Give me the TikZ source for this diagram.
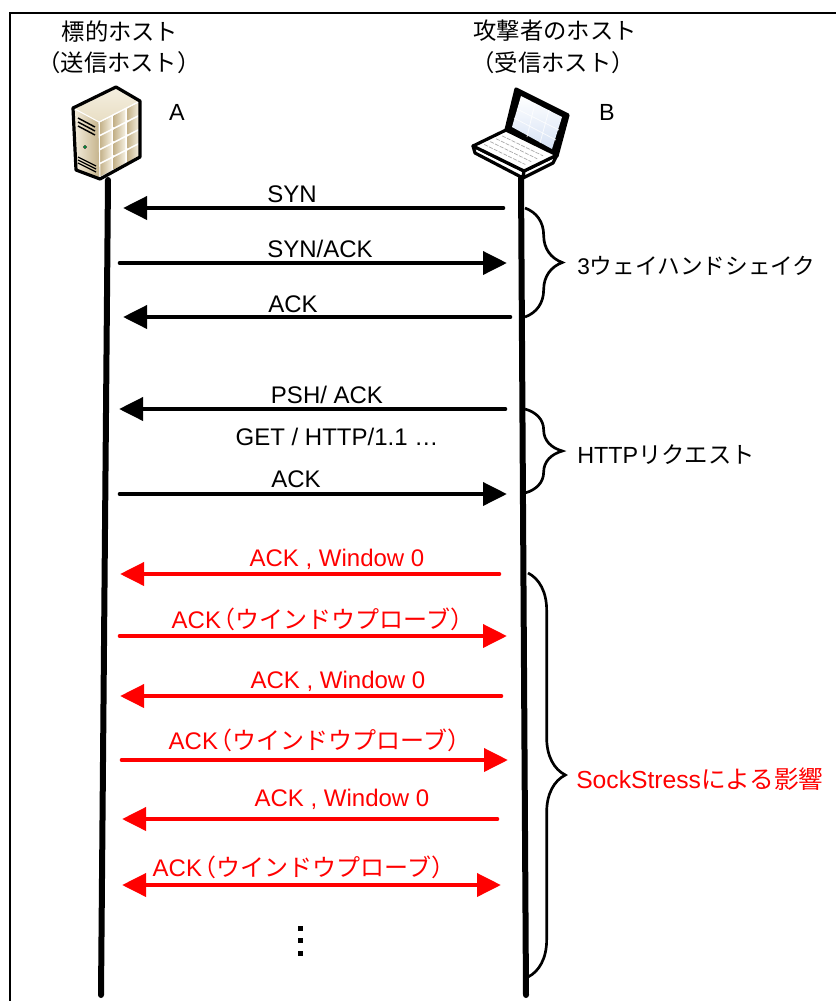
\documentclass[tikz,border=0pt]{standalone}
\usepackage{fontspec}
\setmainfont{Liberation Sans}
\newfontfamily\jp{Noto Sans CJK JP}
\newfontfamily\jph[RawFeature=+halt]{Noto Sans CJK JP}
\usetikzlibrary{arrows.meta,decorations.pathreplacing,calc}
\definecolor{msgred}{RGB}{255,0,0}
\definecolor{srvtop}{RGB}{232,222,196}
\definecolor{srvlight}{RGB}{245,239,224}
\definecolor{srvdark}{RGB}{196,178,138}
\definecolor{scrblue}{RGB}{214,226,245}
\newcommand{\probe}{ACK\kern2pt{\jph（}{\jp ウインドウプローブ}{\jph）}}
\begin{document}
\begin{tikzpicture}[x=0.75pt,y=-0.75pt,
  lbl/.style={font=\fontsize{18pt}{20pt}\selectfont, inner sep=0pt, anchor=base},
  jlbl/.style={font=\fontsize{17.5pt}{20pt}\selectfont\jp, inner sep=0pt},
  side/.style={font=\fontsize{17.5pt}{20pt}\selectfont, inner sep=0pt, anchor=west},
  lifeline/.style={line width=4.5pt, line cap=round},
  msg/.style={line width=3.5pt, line cap=round, -{Triangle[length=18pt,width=17pt]}},
  msgboth/.style={line width=3.5pt, {Triangle[length=18pt,width=17pt]}-{Triangle[length=18pt,width=17pt]}},
  bracestyle/.style={decorate, decoration={brace, amplitude=28pt}, line width=2pt},
  outline/.style={line width=2.4pt, line join=round}
]
\useasboundingbox (0,0) rectangle (836,1001);

% frame
\draw[line width=2pt] (10,1001) -- (10,13) -- (836,13);

% headers
\node[jlbl] (hA1) at (120,32) {標的ホスト};
\node[jlbl] (hA2) at (119,63) {（送信ホスト）};
\node[jlbl] (hB1) at (555,31) {攻撃者のホスト};
\node[jlbl] (hB2) at (553,63) {（受信ホスト）};
\node[font=\fontsize{17.5pt}{20pt}\selectfont, inner sep=0pt] (nameA) at (177,112) {A};
\node[font=\fontsize{17.5pt}{20pt}\selectfont, inner sep=0pt] (nameB) at (607,112) {B};

% ---- server (host A)
\coordinate (sT) at (116,87);
\coordinate (sL) at (73,108);
\coordinate (sF) at (99,122);
\coordinate (sR) at (140,101);
\coordinate (sRB) at (140,157);
\coordinate (sFB) at (100,179);
\coordinate (sLB) at (76,170);
\shade[top color=srvlight, bottom color=srvtop] (sL) -- (sT) -- (sR) -- (sF) -- cycle;
\shade[left color=srvlight, right color=srvdark] (sL) -- (sF) -- (sFB) -- (sLB) -- cycle;
\fill[white] (sF) -- (sR) -- (sRB) -- (sFB) -- cycle;
\foreach \i in {0,1,2}{
  \foreach \j in {0,1,2,3}{
    \pgfmathsetmacro{\xa}{99+\i*13.67+1}
    \pgfmathsetmacro{\xb}{99+(\i+1)*13.67-1}
    \pgfmathsetmacro{\ya}{122-(\xa-99)*21/41+\j*14+1}
    \pgfmathsetmacro{\yb}{122-(\xb-99)*21/41+\j*14+1}
    \shade[left color=srvdark, right color=srvlight]
      (\xa,\ya) -- (\xb,\yb) -- (\xb,\yb+12) -- (\xa,\ya+12) -- cycle;
  }
}
% slots and power lamp on the front face
\foreach \d in {0,4,8}{
  \draw[line width=1.1pt] (78,118+\d) -- (95,127+\d);
}
\foreach \d in {0,3,6}{
  \draw[line width=0.9pt] (78,157+\d) -- (96,166+\d);
}
\fill[teal!60!green, draw=black, line width=0.3pt] (85,147) circle (1.6);
\draw[white, line width=0.8pt] (sL) -- (sF) -- (sR) (sF) -- (sFB);
\draw[outline] (sL) -- (sT) -- (sR) -- (sRB) -- (sFB) -- (sLB) -- cycle;

% ---- laptop (host B)
\coordinate (lidTL) at (516,89);
\coordinate (lidTR) at (568,115);
\coordinate (lidBR) at (557,156);
\coordinate (lidBL) at (506,130);
\coordinate (kbL) at (473,146);
\coordinate (kbBk) at (506,130);
\coordinate (kbR) at (557,155);
\coordinate (kbF) at (524,171);
\coordinate (kbLd) at (475,153);
\coordinate (kbFd) at (523,178);
\coordinate (kbRd) at (553,163);
\fill[black, draw=black, outline] (lidTL) -- (lidTR) -- (lidBR) -- (lidBL) -- cycle;
\shade[top color=white, bottom color=scrblue] (521,96) -- (562,117) -- (552,149) -- (512,127) -- cycle;
\draw[white, line width=0.6pt, opacity=0.8]
  (535,103) -- (527,137) (549,110) -- (540,143)
  (517,109) -- (559,130) (514,118) -- (556,140);
\draw[fill=white, outline] (kbL) -- (kbF) -- (kbFd) -- (kbLd) -- cycle;
\draw[fill=white, outline] (kbF) -- (kbR) -- (kbRd) -- (kbFd) -- cycle;
\draw[fill=white, outline] (kbL) -- (kbBk) -- (kbR) -- (kbF) -- cycle;
\foreach \t in {0.22,0.4,0.58,0.76}{
  \draw[gray!70, line width=0.5pt, dash pattern=on 3pt off 1pt]
    ($(kbL)!\t!(kbBk)+(4,2)$) -- ($(kbF)!\t!(kbR)+(-6,-3)$);
}

% ---- lifelines
\coordinate (Atop) at (108,180);
\coordinate (Abot) at (101,995);
\coordinate (Btop) at (521,178);
\coordinate (Bbot) at (526,995);
\draw[lifeline] (Atop) -- (Abot);
\draw[lifeline] (Btop) -- (Bbot);

% ---- 3-way handshake
\coordinate (m1s) at (503,208); \coordinate (m1e) at (123,208);
\coordinate (m2s) at (120,263); \coordinate (m2e) at (507,263);
\coordinate (m3s) at (510,317); \coordinate (m3e) at (123,317);
\draw[msg] (m1s) -- (m1e);
\draw[msg] (m2s) -- (m2e);
\draw[msg] (m3s) -- (m3e);
\node[lbl] (t1) at (292,202) {SYN};
\node[lbl] (t2) at (320,257) {SYN/ACK};
\node[lbl] (t3) at (293,312) {ACK};

% ---- HTTP request
\coordinate (m4s) at (505,409); \coordinate (m4e) at (119,409);
\coordinate (m5s) at (120,494); \coordinate (m5e) at (507,494);
\draw[msg] (m4s) -- (m4e);
\draw[msg] (m5s) -- (m5e);
\node[lbl] (t4) at (327,403) {PSH/ ACK};
\node[lbl] (t5) at (337,445) {GET / HTTP/1.1 …};
\node[lbl] (t6) at (296,487) {ACK};

% ---- SockStress: zero window and window probes
\begin{scope}[msgred]
\coordinate (r1s) at (499,574); \coordinate (r1e) at (120,574);
\coordinate (r2s) at (120,636); \coordinate (r2e) at (507,636);
\coordinate (r3s) at (501,696); \coordinate (r3e) at (120,696);
\coordinate (r4s) at (122,760); \coordinate (r4e) at (508,760);
\coordinate (r5s) at (497,819); \coordinate (r5e) at (122,819);
\coordinate (r6s) at (122,885); \coordinate (r6e) at (501,885);
\draw[msg] (r1s) -- (r1e);
\draw[msg] (r2s) -- (r2e);
\draw[msg] (r3s) -- (r3e);
\draw[msg] (r4s) -- (r4e);
\draw[msg] (r5s) -- (r5e);
\draw[msgboth] (r6s) -- (r6e);
\node[lbl] (u1) at (337,566) {ACK , Window 0};
\node[lbl] (u2) at (317,628) {\probe};
\node[lbl] (u3) at (338,688) {ACK , Window 0};
\node[lbl] (u4) at (314,749) {\probe};
\node[lbl] (u5) at (342,806) {ACK , Window 0};
\node[lbl] (u6) at (298,876) {\probe};
\end{scope}

% vertical ellipsis
\foreach \yy in {928,940.5,953.5}{
  \fill (298,\yy-2.5) rectangle (303,\yy+2.5);
}

% ---- braces and phase labels
\coordinate (b1t) at (525,208); \coordinate (b1b) at (525,317);
\coordinate (b2t) at (525,409); \coordinate (b2b) at (525,493);
\coordinate (b3t) at (528,573); \coordinate (b3b) at (528,977);
\draw[bracestyle] (b1t) -- (b1b);
\draw[bracestyle] (b2t) -- (b2b);
\draw[bracestyle] (b3t) -- (b3b);
\node[side, font=\fontsize{17pt}{20pt}\selectfont] (p1) at (577,266) {3{\jp ウェイハンドシェイク}};
\node[side] (p2) at (577,455) {HTTP{\jp リクエスト}};
\node[side, text=msgred, font=\fontsize{18.5pt}{20pt}\selectfont] (p3) at (576,779) {SockStress{\jp による影響}};
\end{tikzpicture}
\end{document}
